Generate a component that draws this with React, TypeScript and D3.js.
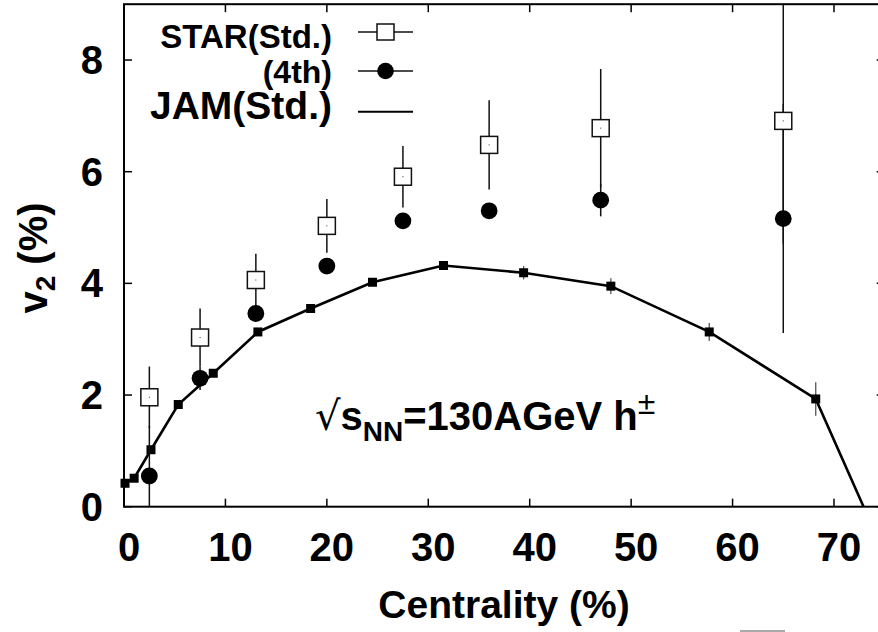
import React from 'react';
import * as d3 from 'd3';

// constants
const width = 878;
const height = 632;
const plot = { left: 124, right: 884.7, top: 4.2, bottom: 506.7 };
const font = '"Liberation Sans", Arial, Helvetica, sans-serif';

// STAR data (open squares = Std., filled circles = 4th order)
const starCent = [2.5, 7.5, 13, 20, 27.5, 36, 47, 65];
const starStd = [1.96, 3.03, 4.06, 5.03, 5.91, 6.48, 6.78, 6.91];
const starStdErr = [0.55, 0.52, 0.47, 0.48, 0.55, 0.8, 1.06, 2.2];
const star4th = [0.55, 2.3, 3.46, 4.31, 5.12, 5.3, 5.49, 5.16];
const star4thErr = [0.9, 0.21, 0.13, 0.1, 0.1, 0.1, 0.29, 2.05];

// JAM model curve
const jamCent = [0.1, 1.0, 2.66, 5.35, 8.8, 13.2, 18.4, 24.5, 31.5, 39.4, 48.0, 57.7, 68.2, 80];
const jamV2 = [0.42, 0.51, 1.02, 1.83, 2.39, 3.13, 3.55, 4.02, 4.32, 4.19, 3.95, 3.13, 1.93, -2.9];
const jamErr = [0.08, 0.06, 0.05, 0.05, 0.05, 0.05, 0.05, 0.05, 0.06, 0.12, 0.14, 0.16, 0.3, 0];

const xTicks = [0, 10, 20, 30, 40, 50, 60, 70];
const yTicks = [0, 2, 4, 6, 8];

const App = () => {
  const x = d3.scaleLinear().domain([0, 75]).range([plot.left, plot.right]);
  const y = d3.scaleLinear().domain([0, 9]).range([plot.bottom, plot.top]);

  const jam = jamCent.map((c, i) => ({ c, v: jamV2[i], e: jamErr[i] }));
  const jamLine = d3.line<{ c: number; v: number }>()
    .x(d => x(d.c))
    .y(d => y(d.v));
  const jamShown = jam.filter(d => d.c <= 75 && d.v >= 0);

  const clamp = (v: number) => Math.max(plot.top, Math.min(plot.bottom, v));

  return (
    <svg width={width} height={height} style={{ position: 'absolute', left: 0, top: 0, background: '#fff' }}
      fontFamily={font} fontWeight="bold">
      <defs>
        <clipPath id="plotClip">
          <rect x={plot.left} y={plot.top} width={plot.right - plot.left} height={plot.bottom - plot.top} />
        </clipPath>
      </defs>

      {/* frame and ticks */}
      <rect x={plot.left} y={plot.top} width={plot.right - plot.left} height={plot.bottom - plot.top}
        fill="none" stroke="#000" strokeWidth={2} />
      {xTicks.map(t => (
        <g key={'x' + t}>
          <line x1={x(t)} x2={x(t)} y1={plot.bottom} y2={plot.bottom - 8} stroke="#000" strokeWidth={1.5} />
          <line x1={x(t)} x2={x(t)} y1={plot.top} y2={plot.top + 8} stroke="#000" strokeWidth={1.5} />
          <text x={x(t) + 5} y={561} fontSize={40} textAnchor="middle">{t}</text>
        </g>
      ))}
      {yTicks.map(t => (
        <g key={'y' + t}>
          <line x1={plot.left} x2={plot.left + 8} y1={y(t)} y2={y(t)} stroke="#000" strokeWidth={1.5} />
          <line x1={plot.right} x2={plot.right - 8} y1={y(t)} y2={y(t)} stroke="#000" strokeWidth={1.5} />
          <text x={103} y={y(t) + 14} fontSize={40} textAnchor="end">{t}</text>
        </g>
      ))}

      {/* axis titles */}
      <text x={504} y={618} fontSize={39} textAnchor="middle">Centrality (%)</text>
      <text transform="translate(47,258) rotate(-90)" fontSize={40} textAnchor="middle">
        v<tspan fontSize={28} dy={8}>2</tspan><tspan dy={-8}> (%)</tspan>
      </text>

      {/* JAM curve */}
      <g clipPath="url(#plotClip)">
        <path d={jamLine(jam) || ''} fill="none" stroke="#000" strokeWidth={2.6} />
      </g>
      {jamShown.map((d, i) => (
        <g key={'j' + i}>
          <line x1={x(d.c)} x2={x(d.c)} y1={y(d.v - d.e)} y2={y(d.v + d.e)} stroke="#555" strokeWidth={1.3} />
          <rect x={x(d.c) - 4.5} y={y(d.v) - 4.5} width={9} height={9} fill="#000" />
        </g>
      ))}

      {/* STAR error bars */}
      {starCent.map((c, i) => (
        <g key={'e' + i}>
          <line x1={x(c)} x2={x(c)} y1={clamp(y(starStd[i] - starStdErr[i]))} y2={clamp(y(starStd[i] + starStdErr[i]))}
            stroke="#111" strokeWidth={1.5} />
          <line x1={x(c)} x2={x(c)} y1={clamp(y(star4th[i] - star4thErr[i]))} y2={clamp(y(star4th[i] + star4thErr[i]))}
            stroke="#111" strokeWidth={1.5} />
        </g>
      ))}
      {/* STAR markers */}
      {starCent.map((c, i) => (
        <g key={'m' + i}>
          <rect x={x(c) - 8.5} y={y(starStd[i]) - 8.5} width={17} height={17} fill="#fff" stroke="#111" strokeWidth={1.5} />
          <rect x={x(c) - 0.5} y={y(starStd[i]) - 0.5} width={1} height={1} fill="#333" />
          <circle cx={x(c)} cy={y(star4th[i])} r={8.4} fill="#000" />
        </g>
      ))}

      {/* annotation */}
      <text x={315} y={430} fontSize={40}>
        <tspan fontWeight="normal" fontFamily='"DejaVu Sans", sans-serif' fontSize={40}>√</tspan>
        <tspan>s</tspan>
        <tspan fontSize={28} dy={11}>NN</tspan>
        <tspan dy={-11}>=130AGeV h</tspan>
        <tspan fontWeight="normal" fontSize={32} dy={-16}>±</tspan>
      </text>

      {/* legend */}
      <text x={332} y={48} fontSize={33} textAnchor="end">STAR(Std.)</text>
      <line x1={358} x2={413} y1={32} y2={32} stroke="#111" strokeWidth={1.3} />
      <rect x={377} y={24} width={17} height={16} fill="#fff" stroke="#111" strokeWidth={1.5} />
      <text x={332} y={83} fontSize={32} textAnchor="end">(4th)</text>
      <line x1={358} x2={413} y1={71} y2={71} stroke="#111" strokeWidth={1.3} />
      <circle cx={385.5} cy={71} r={8.3} fill="#000" />
      <text x={332} y={119} fontSize={39} textAnchor="end">JAM(Std.)</text>
      <line x1={358} x2={413} y1={111.7} y2={111.7} stroke="#000" strokeWidth={2} />

      {/* stray edge of next figure */}
      <line x1={740} x2={785} y1={631} y2={631} stroke="#aaa" strokeWidth={2} />
    </svg>
  );
};

export default App;
